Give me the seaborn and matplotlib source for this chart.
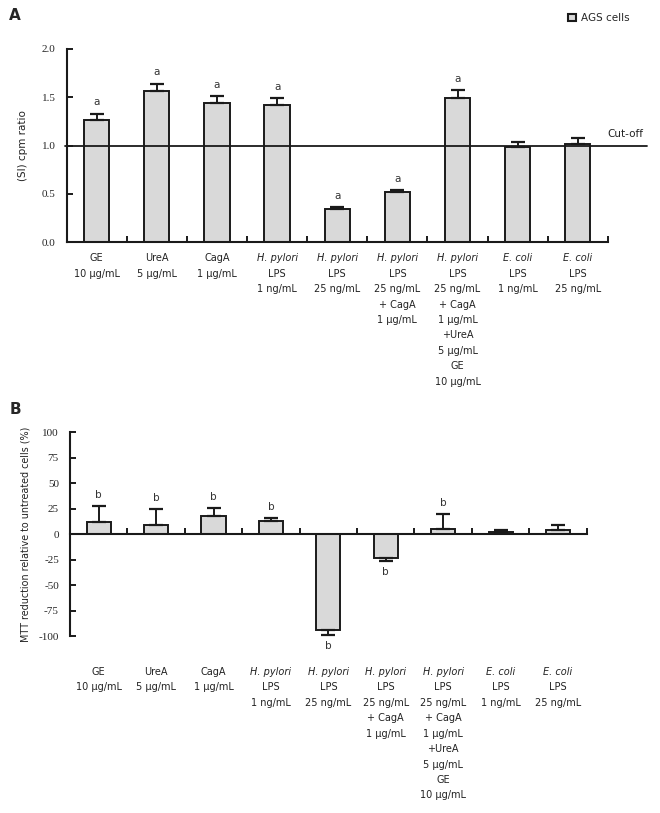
import numpy as np
import pandas as pd
import seaborn as sns
import matplotlib.pyplot as plt
import matplotlib.transforms as mtrans
from matplotlib.patches import Patch

# ---- data ----
groups = ["GE", "UreA", "CagA", "Hp LPS 1", "Hp LPS 25", "Hp LPS 25 + CagA",
          "Hp LPS 25 + CagA + UreA + GE", "Ec LPS 1", "Ec LPS 25"]
label_lines = [
    ["GE", "10 \u00b5g/mL"],
    ["UreA", "5 \u00b5g/mL"],
    ["CagA", "1 \u00b5g/mL"],
    ["H. pylori", "LPS", "1 ng/mL"],
    ["H. pylori", "LPS", "25 ng/mL"],
    ["H. pylori", "LPS", "25 ng/mL", "+ CagA", "1 \u00b5g/mL"],
    ["H. pylori", "LPS", "25 ng/mL", "+ CagA", "1 \u00b5g/mL", "+UreA", "5 \u00b5g/mL", "GE", "10 \u00b5g/mL"],
    ["E. coli", "LPS", "1 ng/mL"],
    ["E. coli", "LPS", "25 ng/mL"],
]
italic_first = [False, False, False, True, True, True, True, True, True]

si_ratio = [1.26, 1.565, 1.44, 1.42, 0.347, 0.516, 1.494, 0.985, 1.02]
si_err = [0.07, 0.075, 0.07, 0.07, 0.018, 0.027, 0.08, 0.05, 0.06]
si_marks = ["a", "a", "a", "a", "a", "a", "a", "", ""]
cutoff = 1.0

mtt = [12.4, 8.8, 18.0, 13.0, -94.0, -23.0, 5.0, 2.0, 4.0]
mtt_err = [15.0, 16.0, 8.0, 3.0, 5.0, 3.0, 15.0, 2.5, 5.0]
mtt_marks = ["b", "b", "b", "b", "b", "b", "b", "", ""]

BAR = "#d9d9d9"
EDGE = "#1a1a1a"

sns.set_style("ticks")
plt.rcParams["font.family"] = ["DejaVu Sans"]


def draw_panel(ax, values, errs, marks, label_top_pt):
    df = pd.DataFrame({"group": groups, "value": values})
    sns.barplot(data=df, x="group", y="value", color=BAR, saturation=1,
                edgecolor=EDGE, linewidth=1.4, width=0.42, errorbar=None, ax=ax)
    vals = np.array(values)
    err = np.array(errs)
    lower = np.where(vals < 0, err, 0)
    upper = np.where(vals >= 0, err, 0)
    ax.errorbar(np.arange(len(vals)), vals, yerr=[lower, upper], fmt="none",
                ecolor=EDGE, elinewidth=1.4, capsize=5, capthick=1.6, zorder=4)
    # significance letters
    for i, (v, e, m) in enumerate(zip(vals, err, marks)):
        if not m:
            continue
        end = v + e if v >= 0 else v - e
        off = 8 if v >= 0 else -8
        ax.annotate(m, xy=(i, end), xytext=(0, off), textcoords="offset points",
                    ha="center", va="center", fontsize=7.5, color="#333333")
    # category boundary ticks
    ax.set_xlim(-0.5, len(groups) - 0.5)
    ax.set_xticks(np.arange(len(groups) + 1) - 0.5)
    ax.set_xticklabels([])
    ax.set_xlabel("")
    ax.tick_params(axis="x", direction="in", length=4, width=1.4, color=EDGE)
    ax.tick_params(axis="y", direction="in", length=4, width=1.4, color=EDGE,
                   labelsize=8, pad=8)
    sns.despine(ax=ax)
    for s in ("left", "bottom"):
        ax.spines[s].set_linewidth(1.5)
        ax.spines[s].set_color(EDGE)
    # multi-line category labels below the axes
    trans = mtrans.blended_transform_factory(ax.transData, ax.transAxes)
    for i, lines in enumerate(label_lines):
        for k, line in enumerate(lines):
            style = "italic" if (k == 0 and italic_first[i]) else "normal"
            ax.annotate(line, xy=(i, 0), xycoords=trans,
                        xytext=(0, -label_top_pt - k * 11.1), textcoords="offset points",
                        ha="center", va="center", fontsize=7, style=style,
                        color="#222222")


fig = plt.figure(figsize=(6.6, 8.13), dpi=100)

# ---- panel A ----
axA = fig.add_axes([0.101, 0.702, 0.820, 0.238])
draw_panel(axA, si_ratio, si_err, si_marks, 11.6)
axA.set_ylim(0, 2.0)
axA.set_yticks([0, 0.5, 1.0, 1.5, 2.0])
axA.set_yticklabels(["0.0", "0.5", "1.0", "1.5", "2.0"], family="Liberation Serif")
axA.set_ylabel("(SI) cpm ratio", fontsize=7.5, labelpad=10, color="#222222")
tA = mtrans.blended_transform_factory(axA.transAxes, axA.transData)
axA.plot([-0.003, 1.072], [cutoff, cutoff], transform=tA, color=EDGE, lw=1.3,
         clip_on=False, zorder=5)
axA.text(1.066, cutoff + 0.12, "Cut-off", transform=tA, ha="right", va="center",
         fontsize=7.5, color="#222222")

# ---- panel B ----
axB = fig.add_axes([0.106, 0.2173, 0.783, 0.251])
draw_panel(axB, mtt, mtt_err, mtt_marks, 25.7)
axB.set_ylim(-100, 100)
axB.set_yticks(np.arange(-100, 101, 25))
axB.set_yticklabels([str(t) for t in np.arange(-100, 101, 25)], family="Liberation Serif")
axB.spines["bottom"].set_position(("data", 0))
axB.set_ylabel("MTT reduction relative to untreated cells (%)", fontsize=6.9,
               labelpad=6, color="#222222")

# panel letters and legend
fig.text(0.014, 0.981, "A", fontsize=11, fontweight="bold", va="center")
fig.text(0.014, 0.496, "B", fontsize=11, fontweight="bold", va="center")
fig.legend(handles=[Patch(facecolor=BAR, edgecolor=EDGE, linewidth=1.5)],
           labels=["AGS cells"], loc="upper right", bbox_to_anchor=(0.968, 0.995),
           frameon=False, fontsize=7.5, handlelength=0.7, handleheight=0.7,
           handletextpad=0.5)

fig.savefig("out.png", dpi=100)
